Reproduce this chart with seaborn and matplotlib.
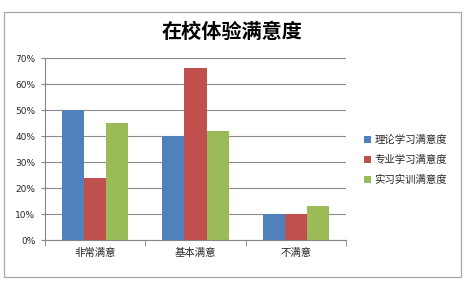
import matplotlib
matplotlib.use("Agg")
import matplotlib.pyplot as plt
from matplotlib.patches import Rectangle
import seaborn as sns
import pandas as pd

categories = ["非常满意", "基本满意", "不满意"]
series = ["理论学习满意度", "专业学习满意度", "实习实训满意度"]
theory = [50, 40, 10]
major = [24, 66, 10]
practice = [45, 42, 13]
colors = ["#4F81BD", "#C0504D", "#9BBB59"]
yticks = [0, 10, 20, 30, 40, 50, 60, 70]

rows = []
for s, vals in zip(series, [theory, major, practice]):
    for c, v in zip(categories, vals):
        rows.append({"cat": c, "series": s, "val": v})
df = pd.DataFrame(rows)

sns.set_style("white")
plt.rcParams['font.family'] = ['Noto Sans CJK SC', 'DejaVu Sans']

W, H = 469, 283
fig = plt.figure(figsize=(W / 100, H / 100), dpi=100)
fig.patch.set_facecolor("white")
fig.patches.append(Rectangle((4 / W, 1 - 277 / H), 457 / W, 265 / H, transform=fig.transFigure,
                             fill=False, edgecolor="#A8A8A8", linewidth=0.9))

ax = fig.add_axes([45 / W, (H - 240) / H, (346 - 45) / W, (240 - 58) / H])
sns.barplot(data=df, x="cat", y="val", hue="series", order=categories, hue_order=series,
            palette=colors, width=0.66, gap=0, saturation=1, ax=ax, legend=True,
            edgecolor="none", linewidth=0)

ax.set_ylim(0, 70)
ax.set_xlim(-0.5, 2.5)
ax.set_yticks(yticks)
ax.set_yticklabels([f"{t}%" for t in yticks], fontsize=6.5, family=['DejaVu Sans'])
ax.yaxis.grid(True, color="#8C8C8C", linewidth=0.8)
ax.set_axisbelow(True)
ax.set_xlabel("")
ax.set_ylabel("")
ax.tick_params(axis="x", labelsize=7.5, length=0, pad=6)
ax.tick_params(axis="y", length=3, color="#868686", pad=4, left=True)
for s in ["top", "right"]:
    ax.spines[s].set_visible(False)
for s in ["left", "bottom"]:
    ax.spines[s].set_color("#868686")
    ax.spines[s].set_linewidth(0.8)
ax.set_xticks([-0.5, 0.5, 1.5, 2.5], minor=True)
ax.tick_params(axis="x", which="minor", length=4, color="#868686", bottom=True)

ax.legend(loc="center left", bbox_to_anchor=(355 / W, (H - 160) / H), bbox_transform=fig.transFigure,
          frameon=False, fontsize=7.5, handlelength=0.65, handleheight=0.65, handletextpad=0.3,
          labelspacing=0.95)

fig.text(232 / W, 1 - 31 / H, "在校体验满意度", ha="center", va="center", fontsize=14.5,
         fontweight="bold", color="black")

fig.savefig("out.png", dpi=100)
